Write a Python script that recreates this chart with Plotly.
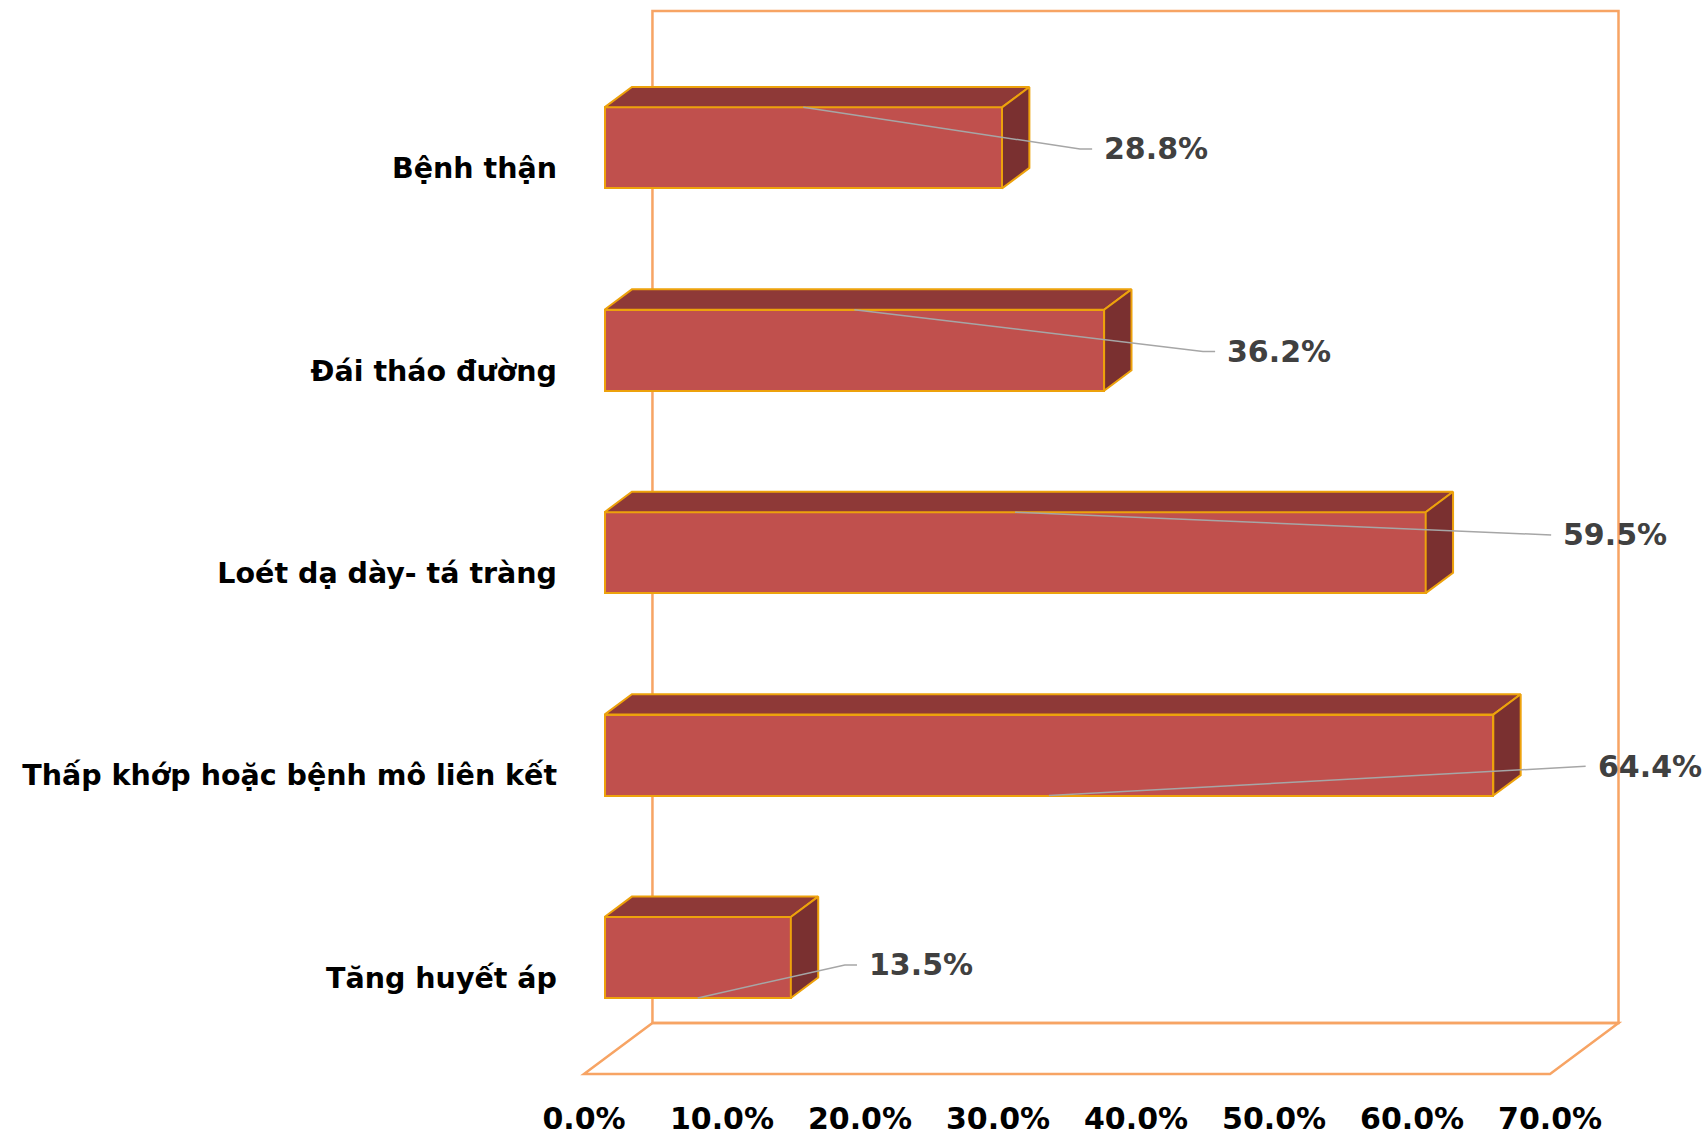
import plotly.graph_objects as go

# ---- data -------------------------------------------------------------
categories = [
    "Tăng huyết áp",
    "Thấp khớp hoặc bệnh mô liên kết",
    "Loét dạ dày- tá tràng",
    "Đái tháo đường",
    "Bệnh thận",
]
values = [13.5, 64.4, 59.5, 36.2, 28.8]
x_ticks = [0, 10, 20, 30, 40, 50, 60, 70]
x_tick_labels = [f"{t:.1f}%" for t in x_ticks]

# ---- 3D-look geometry (oblique projection) ----------------------------
X_MAX = 70
DEPTH_X = 4.96          # horizontal shift of the full depth, in % units
DEPTH_Y = 0.252         # vertical shift of the full depth, in category units
BAR_HALF = 0.2          # half the bar thickness
BAR_D0, BAR_D1 = 0.3, 0.7   # bar front / back depth fractions

FRONT = "#C0504D"
TOP = "#8E3937"
SIDE = "#7A3030"
EDGE = "#EDA20C"
WALL = "#F7A464"
LEADER = "#A6A6A6"
FONT = "DejaVu Sans"

# data-label placement, relative to the bar end and the category centre
label_dx = [7.0, 8.9, 11.3, 10.25, 8.74]
label_dy = [0.039, 0.02, 0.163, 0.07, 0.07]
leader_edge = [-1, -1, 1, 1, 1]      # -1: bottom edge, 1: top edge

cat_pos = list(range(len(categories)))

fig = go.Figure()

# front faces
fig.add_trace(go.Bar(
    orientation="h",
    y=[c + BAR_D0 * DEPTH_Y for c in cat_pos],
    x=values,
    base=BAR_D0 * DEPTH_X,
    width=2 * BAR_HALF,
    marker=dict(color=FRONT, line=dict(color=EDGE, width=2)),
    hoverinfo="skip",
    showlegend=False,
))

# top and side faces
for c, v in zip(cat_pos, values):
    x0f, x0b = BAR_D0 * DEPTH_X, BAR_D1 * DEPTH_X
    yf = c + BAR_D0 * DEPTH_Y
    yb = c + BAR_D1 * DEPTH_Y
    top_x = [x0f, v + x0f, v + x0b, x0b, x0f]
    top_y = [yf + BAR_HALF, yf + BAR_HALF, yb + BAR_HALF, yb + BAR_HALF, yf + BAR_HALF]
    fig.add_trace(go.Scatter(
        x=top_x, y=top_y, mode="lines", fill="toself", fillcolor=TOP,
        line=dict(color=EDGE, width=2), hoverinfo="skip", showlegend=False))
    side_x = [v + x0f, v + x0b, v + x0b, v + x0f, v + x0f]
    side_y = [yf + BAR_HALF, yb + BAR_HALF, yb - BAR_HALF, yf - BAR_HALF, yf + BAR_HALF]
    fig.add_trace(go.Scatter(
        x=side_x, y=side_y, mode="lines", fill="toself", fillcolor=SIDE,
        line=dict(color=EDGE, width=2), hoverinfo="skip", showlegend=False))

# leader lines and value labels
PCT_GAP_KNEE = 1.6
PCT_GAP_END = 0.72
annotations = []
for c, v, dx, dy, edge in zip(cat_pos, values, label_dx, label_dy, leader_edge):
    lx, ly = v + dx, c + dy
    sx = v / 2 + BAR_D0 * DEPTH_X
    sy = c + BAR_D0 * DEPTH_Y + edge * BAR_HALF
    fig.add_trace(go.Scatter(
        x=[sx, lx - PCT_GAP_KNEE, lx - PCT_GAP_END], y=[sy, ly, ly],
        mode="lines", line=dict(color=LEADER, width=1.5),
        hoverinfo="skip", showlegend=False))
    annotations.append(dict(
        x=lx, y=ly, xref="x", yref="y", text=f"{v:.1f}%", showarrow=False,
        xanchor="left", yanchor="middle",
        font=dict(family=FONT, size=30, color="#404040", weight="bold")))

# back wall and floor outlines
y_lo, y_hi = -0.5, len(categories) - 0.5
wall_line = dict(color=WALL, width=2.5)
shapes = [
    dict(type="path", xref="x", yref="y", layer="below", line=wall_line,
         path=(f"M {DEPTH_X},{y_lo + DEPTH_Y} L {DEPTH_X},{y_hi + DEPTH_Y} "
               f"L {X_MAX + DEPTH_X},{y_hi + DEPTH_Y} L {X_MAX + DEPTH_X},{y_lo + DEPTH_Y} Z")),
    dict(type="path", xref="x", yref="y", layer="below", line=wall_line,
         path=(f"M 0,{y_lo} L {DEPTH_X},{y_lo + DEPTH_Y} "
               f"L {X_MAX + DEPTH_X},{y_lo + DEPTH_Y} L {X_MAX},{y_lo} Z")),
]

fig.update_layout(
    width=1706, height=1137,
    margin=dict(l=575, r=0, t=0, b=47),
    paper_bgcolor="white", plot_bgcolor="white",
    bargap=0,
    shapes=shapes,
    annotations=annotations,
    font=dict(family=FONT, size=30, color="black", weight="bold"),
    xaxis=dict(
        range=[-0.652, 81.3], tickvals=x_ticks, ticktext=x_tick_labels,
        showgrid=False, zeroline=False, showline=False, ticks="",
        tickfont=dict(family=FONT, size=30, color="black", weight="bold"),
        ticklabelstandoff=8,
    ),
    yaxis=dict(
        range=[-0.579, 4.806],
        tickvals=[c - 0.025 for c in cat_pos], ticktext=categories,
        showgrid=False, zeroline=False, showline=False, ticks="",
        tickfont=dict(family=FONT, size=28.5, color="black", weight="bold"),
        ticklabelstandoff=17,
    ),
)

fig.write_html("out.html")
